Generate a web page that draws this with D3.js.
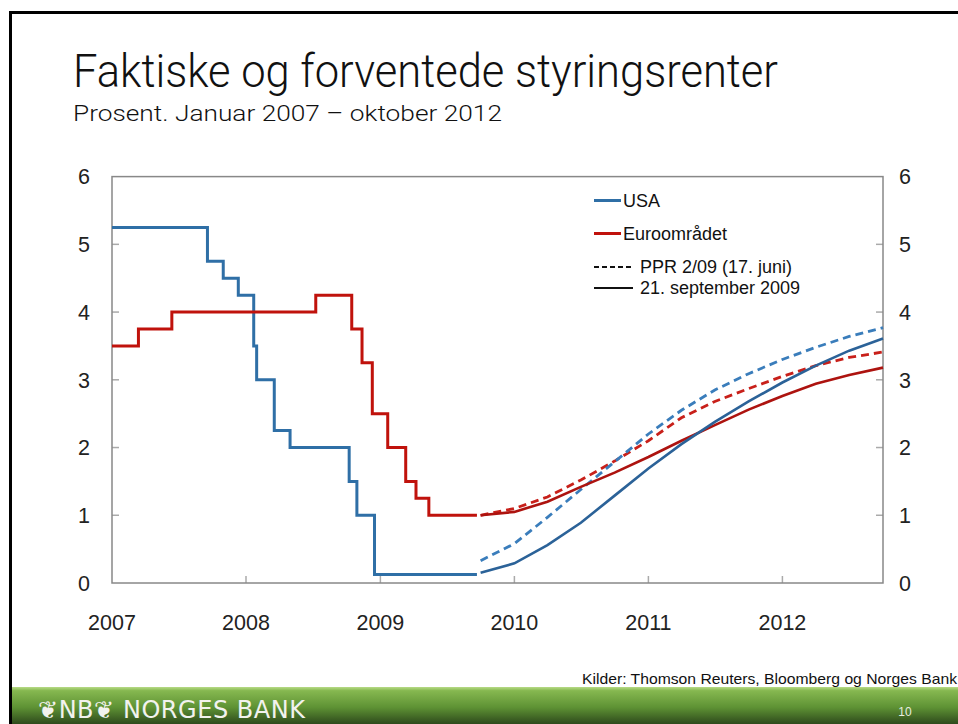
<!DOCTYPE html>
<html>
<head>
<meta charset="utf-8">
<script src="https://cdn.jsdelivr.net/npm/d3@7"></script>
<style>
  body { margin: 0; background: #fff; }
  svg { display: block; font-family: "Liberation Sans", Arial, sans-serif; }
</style>
</head>
<body>
<div class="chart"></div>
<script>
// actual policy rates (step series)
const usaDates = ["2007-01-01","2007-09-18","2007-10-31","2007-12-11","2008-01-22","2008-01-30",
  "2008-03-18","2008-04-30","2008-10-08","2008-10-29","2008-12-16","2009-09-21"];
const usaRates = [5.25, 4.75, 4.5, 4.25, 3.5, 3.0, 2.25, 2.0, 1.5, 1.0, 0.125, 0.125];

const euroDates = ["2007-01-01","2007-03-14","2007-06-13","2008-07-09","2008-10-15","2008-11-12",
  "2008-12-10","2009-01-21","2009-03-11","2009-04-08","2009-05-13","2009-09-21"];
const euroRates = [3.5, 3.75, 4.0, 4.25, 3.75, 3.25, 2.5, 2.0, 1.5, 1.25, 1.0, 1.0];

// expected rates, quarterly
const fwdDates = ["2009-10-01","2010-01-01","2010-04-01","2010-07-01","2010-10-01","2011-01-01",
  "2011-04-01","2011-07-01","2011-10-01","2012-01-01","2012-04-01","2012-07-01","2012-10-01"];
const usaSep  = [0.15, 0.29, 0.56, 0.89, 1.29, 1.69, 2.05, 2.38, 2.68, 2.96, 3.21, 3.43, 3.61];
const usaJun  = [0.33, 0.58, 0.97, 1.38, 1.79, 2.20, 2.55, 2.85, 3.09, 3.30, 3.48, 3.64, 3.77];
const euroSep = [1.00, 1.05, 1.20, 1.42, 1.63, 1.86, 2.10, 2.33, 2.56, 2.76, 2.94, 3.07, 3.18];
const euroJun = [1.00, 1.10, 1.27, 1.52, 1.80, 2.10, 2.44, 2.68, 2.87, 3.05, 3.21, 3.33, 3.41];

const yearLabels = ["2007","2008","2009","2010","2011","2012"];
const yTicks = [0, 1, 2, 3, 4, 5, 6];

const parse = d3.timeParse("%Y-%m-%d");
const zip = (ds, vs) => ds.map((d, i) => ({ date: parse(d), value: vs[i] }));

const width = 958, height = 724;
const margin = { top: 176.6, right: 75, bottom: 141, left: 112 };

const blue = "#2f6fa6", blueDash = "#3a7dbb", blueFwd = "#2b6298";
const red = "#c0120c", redDash = "#c8201a", redFwd = "#ad130f";
const light = "Roboto, 'Liberation Sans', sans-serif";

const svg = d3.select(".chart").append("svg")
  .attr("width", width).attr("height", height);

// slide frame
svg.append("path")
  .attr("d", `M10.5,724 V12.5 H958`)
  .attr("fill", "none").attr("stroke", "#000").attr("stroke-width", 3);

// title
svg.append("text").attr("x", 73).attr("y", 87)
  .attr("font-family", light).attr("font-weight", 300)
  .attr("font-size", 45.5).attr("fill", "#111")
  .attr("textLength", 705).attr("lengthAdjust", "spacingAndGlyphs")
  .text("Faktiske og forventede styringsrenter");
svg.append("text").attr("x", 73).attr("y", 121)
  .attr("font-family", light).attr("font-weight", 300)
  .attr("font-size", 22).attr("fill", "#111")
  .attr("textLength", 429).attr("lengthAdjust", "spacingAndGlyphs")
  .text("Prosent. Januar 2007 \u2013 oktober 2012");

const x = d3.scaleTime()
  .domain([parse("2007-01-01"), parse("2012-10-01")])
  .range([margin.left, width - margin.right]);

const y = d3.scaleLinear()
  .domain([0, 6])
  .range([height - margin.bottom, margin.top]);

const x0 = x.range()[0], x1 = x.range()[1], y0 = y.range()[0], y1 = y.range()[1];

// ticks inside the frame
const axG = svg.append("g").attr("stroke", "#aaa").attr("stroke-width", 1.5);
axG.selectAll(".tl").data(yTicks.slice(1, -1)).join("line")
  .attr("x1", x0).attr("x2", x0 + 7).attr("y1", d => y(d)).attr("y2", d => y(d));
axG.selectAll(".tr").data(yTicks.slice(1, -1)).join("line")
  .attr("x1", x1).attr("x2", x1 - 7).attr("y1", d => y(d)).attr("y2", d => y(d));
axG.selectAll(".tx").data(yearLabels.slice(1)).join("line")
  .attr("x1", d => x(parse(d + "-01-01"))).attr("x2", d => x(parse(d + "-01-01")))
  .attr("y1", y0).attr("y2", y0 - 7);

svg.append("rect")
  .attr("x", x0).attr("y", y1).attr("width", x1 - x0).attr("height", y0 - y1)
  .attr("fill", "none").attr("stroke", "#888").attr("stroke-width", 1.5);

// tick labels
svg.append("g").selectAll("text").data(yTicks).join("text")
  .attr("x", 84).attr("y", d => y(d)).attr("dy", "0.36em")
  .attr("text-anchor", "middle").attr("font-size", 21.5).attr("fill", "#222")
  .text(d => d);
svg.append("g").selectAll("text").data(yTicks).join("text")
  .attr("x", 905).attr("y", d => y(d)).attr("dy", "0.36em")
  .attr("text-anchor", "middle").attr("font-size", 21.5).attr("fill", "#222")
  .text(d => d);
svg.append("g").selectAll("text").data(yearLabels).join("text")
  .attr("x", d => x(parse(d + "-01-01"))).attr("y", 630)
  .attr("text-anchor", "middle").attr("font-size", 21.5).attr("fill", "#222")
  .text(d => d);

// series
const step = d3.line().x(d => x(d.date)).y(d => y(d.value)).curve(d3.curveStepAfter);
const line = d3.line().x(d => x(d.date)).y(d => y(d.value));

const series = [
  { data: zip(usaDates, usaRates), path: step, color: blue, w: 3 },
  { data: zip(euroDates, euroRates), path: step, color: red, w: 3 },
  { data: zip(fwdDates, euroJun), path: line, color: redDash, w: 2.8, dash: "8 5" },
  { data: zip(fwdDates, usaJun), path: line, color: blueDash, w: 2.8, dash: "8 5" },
  { data: zip(fwdDates, euroSep), path: line, color: redFwd, w: 2.6 },
  { data: zip(fwdDates, usaSep), path: line, color: blueFwd, w: 2.6 }
];

svg.append("g").selectAll("path").data(series).join("path")
  .attr("fill", "none")
  .attr("stroke", d => d.color)
  .attr("stroke-width", d => d.w)
  .attr("stroke-dasharray", d => d.dash || null)
  .attr("d", d => d.path(d.data));

// legend
const legend = [
  { label: "USA", color: blue, x2: 621, tx: 623, y: 200.5 },
  { label: "Euroområdet", color: red, x2: 621, tx: 623, y: 233.5 },
  { label: "PPR 2/09 (17. juni)", color: "#111", x2: 633, tx: 640, y: 267, dash: "5 3", w: 2 },
  { label: "21. september 2009", color: "#111", x2: 633, tx: 640, y: 288, w: 2 }
];
const lg = svg.append("g").selectAll("g").data(legend).join("g");
lg.append("line")
  .attr("x1", 594).attr("x2", d => d.x2).attr("y1", d => d.y).attr("y2", d => d.y)
  .attr("stroke", d => d.color).attr("stroke-width", d => d.w || 3)
  .attr("stroke-dasharray", d => d.dash || null);
lg.append("text")
  .attr("x", d => d.tx).attr("y", d => d.y).attr("dy", "0.35em")
  .attr("font-size", 18).attr("fill", "#111")
  .text(d => d.label);

// sources
svg.append("text").attr("x", 957).attr("y", 684)
  .attr("text-anchor", "end").attr("font-size", 15).attr("fill", "#111")
  .attr("textLength", 375).attr("lengthAdjust", "spacingAndGlyphs")
  .text("Kilder: Thomson Reuters, Bloomberg og Norges Bank");

// footer band
const defs = svg.append("defs");
const grad = defs.append("linearGradient").attr("id", "band")
  .attr("x1", 0).attr("y1", 0).attr("x2", 0).attr("y2", 1);
grad.append("stop").attr("offset", "0%").attr("stop-color", "#b8db86");
grad.append("stop").attr("offset", "10%").attr("stop-color", "#86b850");
grad.append("stop").attr("offset", "55%").attr("stop-color", "#5e9234");
grad.append("stop").attr("offset", "100%").attr("stop-color", "#2e4a1c");
svg.append("rect").attr("x", 12).attr("y", 687).attr("width", width - 12).attr("height", 37)
  .attr("fill", "url(#band)");

svg.append("text").attr("x", 38).attr("y", 718)
  .attr("font-family", "'DejaVu Sans', sans-serif")
  .attr("font-size", 24).attr("fill", "#f2f2ee").attr("letter-spacing", 3)
  .attr("textLength", 270).attr("lengthAdjust", "spacing")
  .text("\u2766NB\u2766 NORGES BANK");
svg.append("text").attr("x", 905).attr("y", 716)
  .attr("text-anchor", "middle").attr("font-size", 12).attr("fill", "#e8eee0")
  .text("10");
</script>
</body>
</html>
